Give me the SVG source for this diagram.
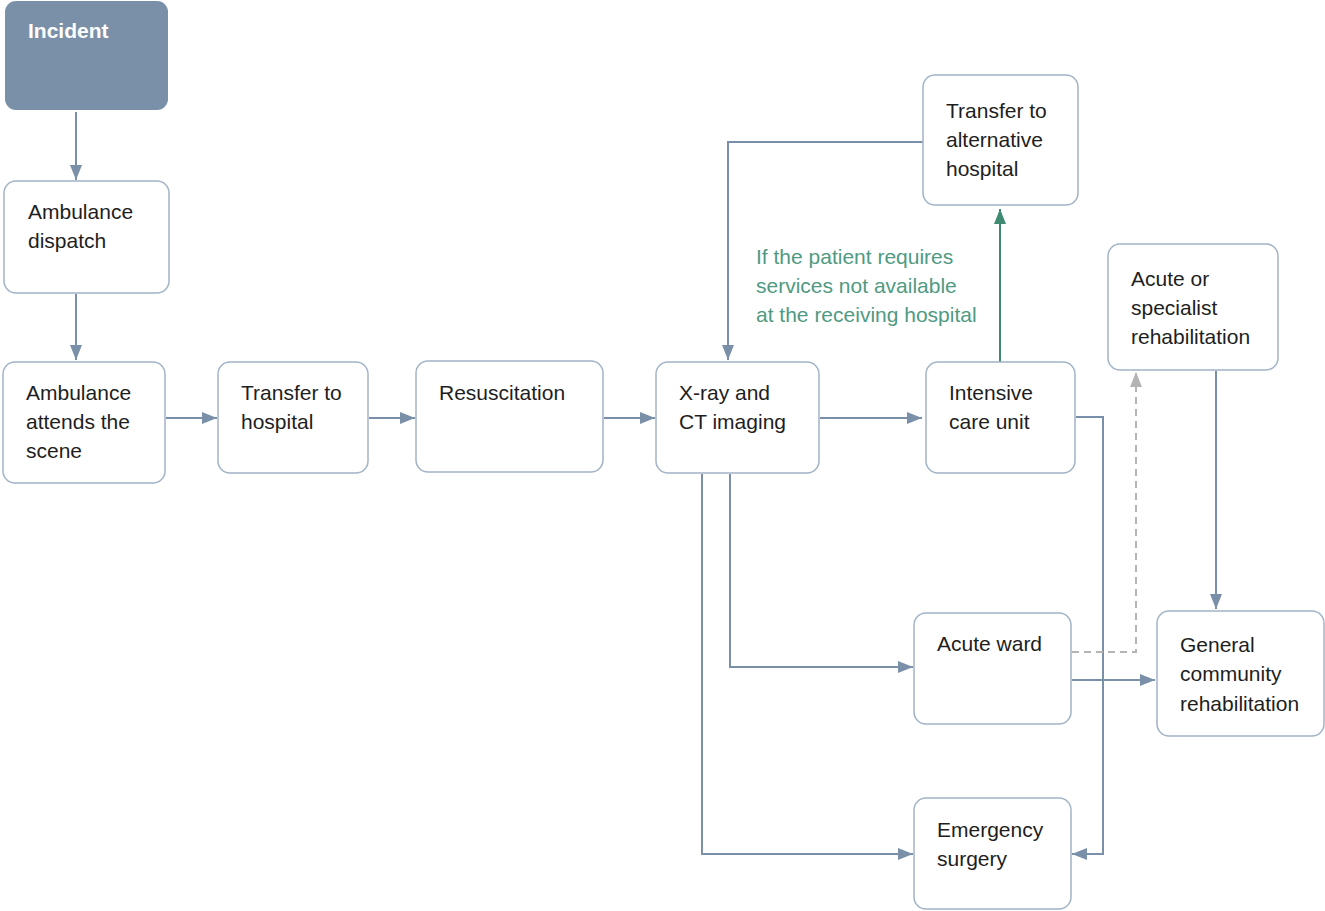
<svg xmlns="http://www.w3.org/2000/svg" width="1325" height="911" viewBox="0 0 1325 911">
<defs>
<style>
.box{fill:#fff;stroke:#a3b3c6;stroke-width:1.5}
.t{font-family:"Liberation Sans",Arial,sans-serif;font-size:21px;fill:#1e1e1e}
.c{fill:none;stroke:#7a90a8;stroke-width:2}
.g{fill:none;stroke:#3f8a72;stroke-width:2}
.d{fill:none;stroke:#b4b4b4;stroke-width:2;stroke-dasharray:7 5}
</style>
<marker id="a" viewBox="0 0 15 12" refX="15" refY="6" markerWidth="15" markerHeight="12" markerUnits="userSpaceOnUse" orient="auto"><path d="M0,0 L15,6 L0,12 z" fill="#7a90a8"/></marker>
<marker id="ag" viewBox="0 0 15 12" refX="15" refY="6" markerWidth="15" markerHeight="12" markerUnits="userSpaceOnUse" orient="auto"><path d="M0,0 L15,6 L0,12 z" fill="#3f8a72"/></marker>
<marker id="ad" viewBox="0 0 15 12" refX="15" refY="6" markerWidth="15" markerHeight="12" markerUnits="userSpaceOnUse" orient="auto"><path d="M0,0 L15,6 L0,12 z" fill="#b4b4b4"/></marker>
</defs>
<rect width="1325" height="911" fill="#fff"/>
<g id="connectors">
<path class="c" d="M76,112 V180" marker-end="url(#a)"/>
<path class="c" d="M76,294 V360" marker-end="url(#a)"/>
<path class="c" d="M166,418 H217" marker-end="url(#a)"/>
<path class="c" d="M369,418 H415" marker-end="url(#a)"/>
<path class="c" d="M604,418 H655" marker-end="url(#a)"/>
<path class="c" d="M820,418 H922" marker-end="url(#a)"/>
<path class="g" d="M1000,362 V209" marker-end="url(#ag)"/>
<path class="c" d="M923,142 H728 V360" marker-end="url(#a)"/>
<path class="c" d="M730,474 V667 H913" marker-end="url(#a)"/>
<path class="c" d="M702,474 V854 H913" marker-end="url(#a)"/>
<path class="c" d="M1076,417 H1103 V854 H1072" marker-end="url(#a)"/>
<path class="c" d="M1072,680 H1155" marker-end="url(#a)"/>
<path class="d" d="M1072,652 H1136 V372" marker-end="url(#ad)"/>
<path class="c" d="M1216,371 V609" marker-end="url(#a)"/>
</g>
<g id="incident">
<rect x="5" y="1" width="163" height="109" rx="11" fill="#7a90a8"/>
<text class="t" x="28" y="38" style="fill:#fff;font-weight:bold">Incident</text>
</g>
<g id="dispatch">
<rect class="box" x="4" y="181" width="165" height="112" rx="12"/>
<text class="t" x="28" y="219">Ambulance</text>
<text class="t" x="28" y="248">dispatch</text>
</g>
<g id="attends">
<rect class="box" x="3" y="362" width="162" height="121" rx="12"/>
<text class="t" x="26" y="400">Ambulance</text>
<text class="t" x="26" y="429">attends the</text>
<text class="t" x="26" y="458">scene</text>
</g>
<g id="transfer">
<rect class="box" x="218" y="362" width="150" height="111" rx="12"/>
<text class="t" x="241" y="400">Transfer to</text>
<text class="t" x="241" y="429">hospital</text>
</g>
<g id="resus">
<rect class="box" x="416" y="361" width="187" height="111" rx="12"/>
<text class="t" x="439" y="400">Resuscitation</text>
</g>
<g id="xray">
<rect class="box" x="656" y="362" width="163" height="111" rx="12"/>
<text class="t" x="679" y="400">X-ray and</text>
<text class="t" x="679" y="429">CT imaging</text>
</g>
<g id="icu">
<rect class="box" x="926" y="362" width="149" height="111" rx="12"/>
<text class="t" x="949" y="400">Intensive</text>
<text class="t" x="949" y="429">care unit</text>
</g>
<g id="alt">
<rect class="box" x="923" y="75" width="155" height="130" rx="12"/>
<text class="t" x="946" y="118">Transfer to</text>
<text class="t" x="946" y="147">alternative</text>
<text class="t" x="946" y="176">hospital</text>
</g>
<g id="rehab-acute">
<rect class="box" x="1108" y="244" width="170" height="126" rx="12"/>
<text class="t" x="1131" y="286">Acute or</text>
<text class="t" x="1131" y="315">specialist</text>
<text class="t" x="1131" y="344">rehabilitation</text>
</g>
<g id="ward">
<rect class="box" x="914" y="613" width="157" height="111" rx="12"/>
<text class="t" x="937" y="651">Acute ward</text>
</g>
<g id="surgery">
<rect class="box" x="914" y="798" width="157" height="111" rx="12"/>
<text class="t" x="937" y="837">Emergency</text>
<text class="t" x="937" y="866">surgery</text>
</g>
<g id="rehab-general">
<rect class="box" x="1157" y="611" width="167" height="125" rx="12"/>
<text class="t" x="1180" y="652">General</text>
<text class="t" x="1180" y="681">community</text>
<text class="t" x="1180" y="711">rehabilitation</text>
</g>
<g id="note">
<text class="t" x="756" y="264" style="fill:#4f9a82">If the patient requires</text>
<text class="t" x="756" y="293" style="fill:#4f9a82">services not available</text>
<text class="t" x="756" y="322" style="fill:#4f9a82">at the receiving hospital</text>
</g>
</svg>
